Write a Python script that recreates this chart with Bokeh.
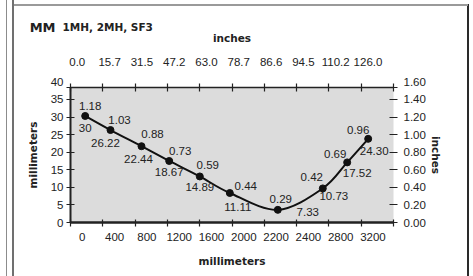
from bokeh.plotting import figure
from bokeh.models import LinearAxis, Range1d, FixedTicker, ColumnDataSource, Label
from bokeh.embed import file_html
from bokeh.resources import INLINE

# ---------------- data ----------------
BOTTOM_LABELS = ["0", "400", "800", "1200", "1600", "2000", "2200", "2400", "2800", "3200"]
TOP_LABELS = ["0.0", "15.7", "31.5", "47.2", "63.0", "78.7", "86.6", "94.5", "110.2", "126.0"]
MM_TICK_LABELS = ["0", "5", "10", "15", "20", "25", "30", "35", "40"]
IN_TICK_LABELS = ["0.00", "0.20", "0.40", "0.60", "0.80", "1.00", "1.20", "1.40", "1.60"]
# point positions (x in axis slots, y in millimetre-axis units)
POINT_X = [0.455, 1.238, 2.198, 3.056, 4.003, 4.932, 6.418, 7.811, 8.566, 9.216]
POINT_Y = [30.3, 26.3, 21.7, 17.5, 13.1, 8.4, 3.6, 9.7, 17.1, 23.8]
INCH_LABELS = ["1.18", "1.03", "0.88", "0.73", "0.59", "0.44", "0.29", "0.42", "0.69", "0.96"]
MM_LABELS = ["30", "26.22", "22.44", "18.67", "14.89", "11.11", "7.33", "10.73", "17.52", "24.30"]
TITLE = "MM"
SUBTITLE = "1MH, 2MH, SF3"

# ---------------- layout / style ----------------
NUM_FONT = "'Liberation Sans Narrow', 'Liberation Sans', sans-serif"
BOLD_FONT = "DejaVu Sans"
INK = "#222222"
Y_TOP = 38.4            # frame top; the printed "40" sits a little above the frame edge
TOP_LABEL_Y = 40.0
IN_PER_UNIT = 1 / 25.0
N_SLOTS = 10
BOTTOM_SHIFT = 0.365
TOP_SHIFT = 0.21
INCH_DX = [5, 9, 11, 11, 8, 16, 3, -11, -12, -10]
INCH_DY = [-10, -10, -12, -10, -11, -7, -11, -11, -8, -9]
MM_DX = [0, -5, -3, 0, 0, 8, 30, 11, 10, 6]
MM_DY = [12, 13, 13, 11, 11, 14, 2, 8, 11, 12]

# catalogue-panel rules drawn as page decoration behind the transparent border area
PANEL_STYLE = {
    "background-image": ("linear-gradient(#8c8c8c,#8c8c8c), linear-gradient(#707070,#707070), "
                         "linear-gradient(#9a9a9a,#9a9a9a), linear-gradient(#2a2a2a,#2a2a2a)"),
    "background-size": "1px 100%, 2px 100%, 456px 2px, 2px 100%",
    "background-position": "6px 0px, 12px 0px, 12px 4px, 467px 4px",
    "background-repeat": "no-repeat",
}

p = figure(width=473, height=276, output_backend="svg", toolbar_location=None,
           x_range=Range1d(0, N_SLOTS), y_range=Range1d(0, Y_TOP),
           min_border_left=70, min_border_right=80, min_border_top=87, min_border_bottom=54,
           styles=PANEL_STYLE)
p.extra_y_ranges = {"in": Range1d(0, Y_TOP * IN_PER_UNIT)}
p.background_fill_color = "#dcdcdc"
p.border_fill_color = None
p.outline_line_color = None
p.grid.visible = False


def style_axis(ax):
    ax.major_label_text_font = NUM_FONT
    ax.major_label_text_font_size = "11.5px"
    ax.major_label_text_color = INK
    ax.axis_label_text_font = BOLD_FONT
    ax.axis_label_text_font_style = "bold"
    ax.axis_label_text_font_size = "10.5px"
    ax.axis_label_text_color = INK
    ax.axis_line_color = INK
    ax.major_tick_line_color = INK
    ax.major_tick_line_width = 1.2
    ax.minor_tick_line_width = 1.2


# bottom axis
bx = p.xaxis[0]
bticks = [i + BOTTOM_SHIFT for i in range(len(BOTTOM_LABELS))]
bx.ticker = FixedTicker(ticks=bticks, minor_ticks=list(range(N_SLOTS + 1)))
bx.major_label_overrides = {t: s for t, s in zip(bticks, BOTTOM_LABELS)}
style_axis(bx)
bx.major_tick_line_color = None
bx.major_tick_out = 4
bx.minor_tick_line_color = INK
bx.minor_tick_in = 3
bx.minor_tick_out = 4
bx.axis_line_width = 2.5
bx.major_label_standoff = 6
bx.axis_label = "millimeters"
bx.axis_label_standoff = 11

# top axis
tticks = [i + TOP_SHIFT for i in range(len(TOP_LABELS))]
tx = LinearAxis(ticker=FixedTicker(ticks=tticks, minor_ticks=list(range(N_SLOTS + 1))))
tx.major_label_overrides = {t: s for t, s in zip(tticks, TOP_LABELS)}
style_axis(tx)
tx.major_tick_line_color = None
tx.major_tick_out = 4
tx.minor_tick_line_color = INK
tx.minor_tick_in = 4
tx.minor_tick_out = 4
tx.axis_line_width = 1.5
tx.major_label_standoff = 18
tx.axis_label = "inches"
tx.axis_label_standoff = 11
p.add_layout(tx, "above")

# left axis (mm): the top tick mark sits on the frame edge, its "40" is printed just above it
ly = p.yaxis[0]
lticks = [5.0 * i for i in range(len(MM_TICK_LABELS) - 1)] + [Y_TOP]
ly.ticker = FixedTicker(ticks=lticks)
ly.major_label_overrides = {t: s for t, s in zip(lticks, MM_TICK_LABELS[:-1] + [""])}
style_axis(ly)
ly.major_tick_in = 4
ly.major_tick_out = 4
ly.minor_tick_line_color = None
ly.axis_line_width = 2
ly.major_label_standoff = 3
ly.axis_label = "millimeters"
ly.axis_label_standoff = 9

# right axis (inches)
rticks = [round(0.2 * i, 2) for i in range(len(IN_TICK_LABELS) - 1)] + [Y_TOP * IN_PER_UNIT]
ry = LinearAxis(y_range_name="in", ticker=FixedTicker(ticks=rticks))
ry.major_label_overrides = {t: s for t, s in zip(rticks, IN_TICK_LABELS[:-1] + [""])}
style_axis(ry)
ry.axis_line_color = None
ry.major_tick_in = 4
ry.major_tick_out = 4
ry.minor_tick_line_color = None
ry.major_label_standoff = 6
ry.axis_label = "inches"
ry.axis_label_standoff = 1
p.add_layout(ry, "right")

# smooth curve through the points (Catmull-Rom as cubic Bezier segments)
n = len(POINT_X)
seg = {k: [] for k in ("x0", "y0", "x1", "y1", "cx0", "cy0", "cx1", "cy1")}
for i in range(n - 1):
    a, b = max(i - 1, 0), min(i + 2, n - 1)
    seg["x0"].append(POINT_X[i]); seg["y0"].append(POINT_Y[i])
    seg["x1"].append(POINT_X[i + 1]); seg["y1"].append(POINT_Y[i + 1])
    seg["cx0"].append(POINT_X[i] + (POINT_X[i + 1] - POINT_X[a]) / 6)
    seg["cy0"].append(POINT_Y[i] + (POINT_Y[i + 1] - POINT_Y[a]) / 6)
    seg["cx1"].append(POINT_X[i + 1] - (POINT_X[b] - POINT_X[i]) / 6)
    seg["cy1"].append(POINT_Y[i + 1] - (POINT_Y[b] - POINT_Y[i]) / 6)
p.bezier(source=ColumnDataSource(seg), x0="x0", y0="y0", x1="x1", y1="y1",
         cx0="cx0", cy0="cy0", cx1="cx1", cy1="cy1", line_color="#111111", line_width=2)

src = ColumnDataSource(dict(x=POINT_X, y=POINT_Y, inch=INCH_LABELS, mm=MM_LABELS,
                            idx=INCH_DX, idy=INCH_DY, mdx=MM_DX, mdy=MM_DY))
p.scatter("x", "y", source=src, size=7, fill_color="#111111", line_color="#111111")
for col, dx, dy in (("inch", "idx", "idy"), ("mm", "mdx", "mdy")):
    p.text("x", "y", text=col, source=src, x_offset=dx, y_offset=dy,
           text_align="center", text_baseline="middle", text_font={"value": NUM_FONT},
           text_font_size="11.5px", text_color=INK)

# top-of-scale labels printed above the frame edge (side panels, so they are not clipped)
p.add_layout(Label(x=0, y=TOP_LABEL_Y, x_offset=-7, text=MM_TICK_LABELS[-1],
                   text_font=NUM_FONT, text_font_size="11.5px", text_color=INK,
                   text_align="right", text_baseline="middle"), "left")
p.add_layout(Label(x=N_SLOTS, y=TOP_LABEL_Y, x_offset=10, text=IN_TICK_LABELS[-1],
                   text_font=NUM_FONT, text_font_size="11.5px", text_color=INK,
                   text_align="left", text_baseline="middle"), "right")

# title and subtitle (placed in the top side panel so they are not clipped to the frame)
TITLE_Y = 55.6
p.add_layout(Label(x=0, y=TITLE_Y, x_offset=-15, text=TITLE,
                   text_font=BOLD_FONT, text_font_style="bold", text_font_size="13px",
                   text_color=INK, text_align="right", text_baseline="alphabetic"), "above")
p.add_layout(Label(x=0, y=TITLE_Y, x_offset=-8, text=SUBTITLE,
                   text_font=BOLD_FONT, text_font_style="bold", text_font_size="10.5px",
                   text_color=INK, text_align="left", text_baseline="alphabetic"), "above")

open("out.html", "w").write(file_html(p, INLINE))
